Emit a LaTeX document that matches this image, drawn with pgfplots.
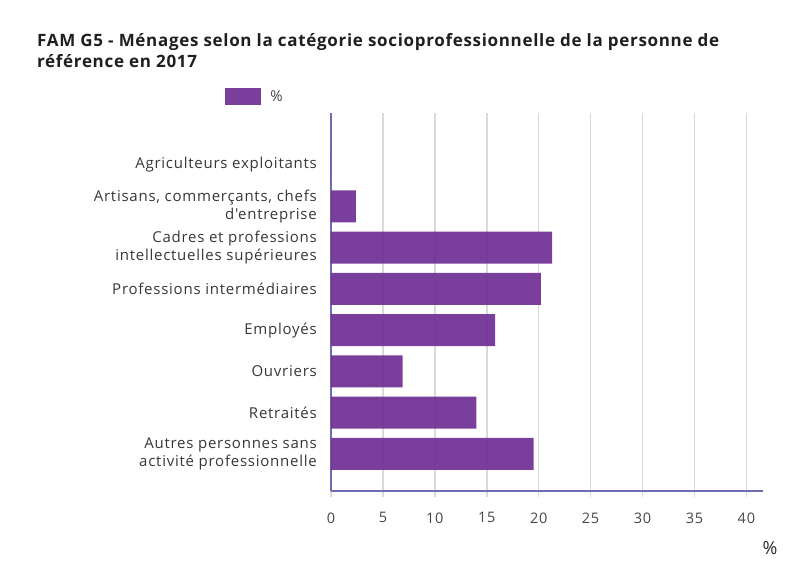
\documentclass[border=0pt]{standalone}
\usepackage{fontspec}
\setmainfont{Open Sans}
\newfontfamily\labfont[LetterSpace=5]{Open Sans}
\newfontfamily\titlefont[LetterSpace=4]{Open Sans}
\usepackage{pgfplots}
\pgfplotsset{compat=1.18}
\definecolor{barc}{RGB}{112,48,148}
\definecolor{axc}{RGB}{108,108,178}
\definecolor{gridc}{RGB}{218,218,218}
\definecolor{labc}{RGB}{55,55,55}
\definecolor{tickc}{RGB}{70,70,70}
\begin{document}
\begin{tikzpicture}[x=1pt,y=1pt]
\path[use as bounding box] (0,0) rectangle (788,567);
\node[anchor=north west, align=left, font=\titlefont\fontsize{17}{21}\selectfont\bfseries, text=black!88, inner sep=0pt] at (37,534)
 {FAM G5 - Ménages selon la catégorie socioprofessionnelle de la personne de\\référence en 2017};
\begin{axis}[
 at={(331pt,76pt)}, anchor=south west, scale only axis,
 width=432pt, height=378pt,
 xbar, bar width=32pt,
 xmin=0, xmax=41.6, ymin=-1.26, ymax=7.9, y dir=reverse,
 ytick={0,...,7},
 yticklabels={Agriculteurs exploitants,
   {Artisans, commerçants, chefs\\d'entreprise},
   {Cadres et professions\\intellectuelles supérieures},
   Professions intermédiaires,
   Employés, Ouvriers, Retraités,
   {Autres personnes sans\\activité professionnelle}},
 yticklabel style={align=right, font=\labfont\fontsize{15}{18}\selectfont, text=labc, inner sep=0pt, xshift=-8pt},
 ytick style={draw=none},
 xtick={0,5,...,40},
 xticklabel style={font=\labfont\fontsize{14.5}{16}\selectfont, text=tickc, yshift=-12pt},
 /pgf/number format/assume math mode=true,
 axis lines=left,
 axis line style={-, draw=axc, line width=1.5pt},
 tick align=outside, major tick length=6pt,
 xtick style={draw=gridc, line width=1.5pt},
 xmajorgrids, grid style={draw=gridc, line width=1.5pt},
 xlabel={\%}, xlabel style={at={(rel axis cs:1.016,-0.151)}, anchor=center, font=\labfont\fontsize{18}{20}\selectfont, text=black!85},
 legend image code/.code={\fill[barc] (0pt,-8.5pt) rectangle (36pt,8.5pt);},
 legend style={at={(-0.245,1.0437)}, anchor=west, draw=none, fill=none, inner sep=0pt, font=\labfont\fontsize{15}{17}\selectfont, text=tickc, nodes={inner xsep=9pt}},
]
\addplot[draw=none, fill=barc, fill opacity=0.93] coordinates {
 (0,0) (2.4,1) (21.3,2) (20.2,3) (15.8,4) (6.9,5) (14.0,6) (19.5,7)};
\addlegendentry{\%}
\end{axis}
\end{tikzpicture}
\end{document}
